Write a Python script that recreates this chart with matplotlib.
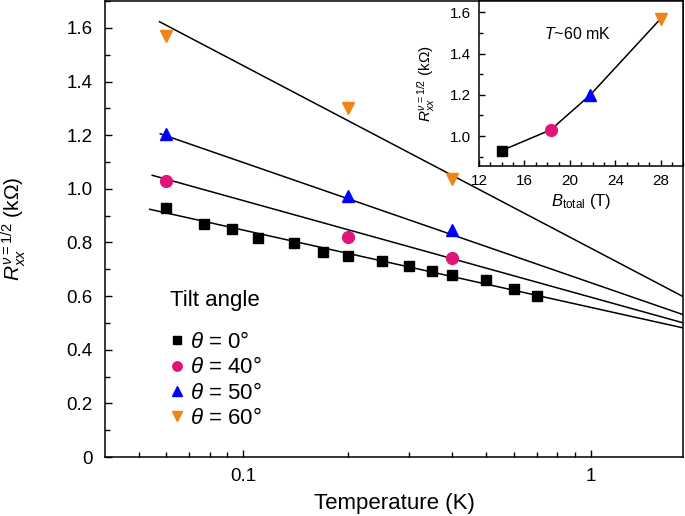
import matplotlib
matplotlib.use("Agg")
import matplotlib.pyplot as plt
import numpy as np
from matplotlib.ticker import FixedLocator, FuncFormatter, MultipleLocator, NullFormatter

plt.rcParams["font.family"] = ["Liberation Sans", "DejaVu Sans"]
plt.rcParams["mathtext.fontset"] = "custom"
plt.rcParams["mathtext.rm"] = "Liberation Sans"
plt.rcParams["mathtext.it"] = "Liberation Sans:italic"
plt.rcParams["mathtext.bf"] = "Liberation Sans:bold"

# theta = 0 deg, full temperature sweep
temp_0 = [0.060, 0.077, 0.093, 0.110, 0.140, 0.170, 0.200, 0.250, 0.300, 0.350, 0.400, 0.500, 0.600, 0.700]
r_0 = [0.929, 0.869, 0.851, 0.817, 0.798, 0.765, 0.750, 0.731, 0.713, 0.694, 0.679, 0.660, 0.627, 0.601]

# tilted samples
temp_tilt = [0.06, 0.2, 0.4]
r_40 = [1.030, 0.821, 0.743]
r_50 = [1.205, 0.972, 0.845]
r_60 = [1.571, 1.302, 1.037]

# log-linear fits: R = r1 + slope * log10(T)
fit_r1 = [0.558, 0.596, 0.650, 0.779]
fit_slope = [-0.288, -0.360, -0.448, -0.680]
fit_tmin = [0.0538, 0.0547, 0.0577, 0.0574]

# inset: R at T~60 mK vs total field
b_total = [14.0, 18.3, 21.8, 28.0]
r_inset = [0.93, 1.03, 1.20, 1.57]

labels = [r"$\theta$ = 0°", r"$\theta$ = 40°", r"$\theta$ = 50°", r"$\theta$ = 60°"]
colors = ["black", "#e0157a", "#0000ff", "#f08418"]
markers = ["s", "o", "^", "v"]
msizes = [7, 8.5, 9, 9]

fig = plt.figure(figsize=(6.85, 5.16), dpi=100)
ax = fig.add_axes([0.1533, 0.1143, 0.8445, 0.8837])

t_end = 2.5
for r1, slope, tmin in zip(fit_r1, fit_slope, fit_tmin):
    t = np.array([tmin, t_end])
    ax.plot(t, r1 + slope * np.log10(t), color="black", lw=1.1, zorder=2)

series = [(temp_0, r_0), (temp_tilt, r_40), (temp_tilt, r_50), (temp_tilt, r_60)]
handles = []
for (tx, ry), lab, c, m, ms in zip(series, labels, colors, markers, msizes):
    ax.plot(tx, ry, ls="none", marker=m, ms=ms, color=c, mec=c, zorder=3)
    handles.append(plt.Line2D([], [], ls="none", marker=m, ms=ms * 0.8, color=c, mec=c, label=lab))

ax.set_xscale("log")
ax.set_xlim(0.04, 1.85)
ax.set_ylim(0, 1.7)
ax.xaxis.set_major_locator(FixedLocator([0.1, 1]))
ax.xaxis.set_major_formatter(FuncFormatter(lambda v, p: "0.1" if v < 0.5 else "1"))
ax.xaxis.set_minor_locator(FixedLocator([0.05, 0.06, 0.07, 0.08, 0.09,
                                         0.2, 0.3, 0.4, 0.5, 0.6, 0.7, 0.8, 0.9]))
ax.xaxis.set_minor_formatter(NullFormatter())
ax.yaxis.set_major_locator(MultipleLocator(0.2))
ax.yaxis.set_minor_locator(MultipleLocator(0.1))
ax.yaxis.set_major_formatter(FuncFormatter(lambda v, p: "0" if abs(v) < 1e-9 else f"{v:.1f}"))
ax.tick_params(which="both", direction="in", top=False, right=False, labelsize=13.5, width=1)
ax.tick_params(which="major", length=5)
ax.tick_params(which="minor", length=3.5)
ax.tick_params(axis="y", pad=9)
ax.tick_params(axis="x", pad=8)
for s in ax.spines.values():
    s.set_linewidth(1.1)
ax.set_xlabel("Temperature (K)", fontsize=16, labelpad=6)
ax.set_ylabel(r"$R_{xx}^{\nu=1/2}$ (k$\Omega$)", fontsize=15)
ax.yaxis.set_label_coords(-0.133, 0.5)

ax.text(0.113, 0.344, "Tilt angle", transform=ax.transAxes, fontsize=16, va="center", ha="left")
ax.legend(handles=handles, loc="upper left", bbox_to_anchor=(0.1085, 0.274), frameon=False,
          fontsize=16, handlelength=0.8, handletextpad=0.2, labelspacing=0.19,
          borderpad=0, borderaxespad=0)

# inset
axi = fig.add_axes([0.6993, 0.6783, 0.2985, 0.3197])
axi.plot(b_total, r_inset, color="black", lw=1.1, zorder=2)
for b, r, c, m, ms in zip(b_total, r_inset, colors, markers, msizes):
    axi.plot([b], [r], ls="none", marker=m, ms=ms, color=c, mec=c, zorder=3)
axi.set_xlim(12, 30)
axi.set_ylim(0.855, 1.655)
axi.xaxis.set_major_locator(MultipleLocator(4))
axi.xaxis.set_minor_locator(MultipleLocator(1))
axi.yaxis.set_major_locator(MultipleLocator(0.2))
axi.yaxis.set_minor_locator(MultipleLocator(0.1))
axi.yaxis.set_major_formatter(FuncFormatter(lambda v, p: f"{v:.1f}"))
axi.tick_params(which="both", direction="in", top=False, right=False, labelsize=11, width=1)
axi.tick_params(which="major", length=4.5)
axi.tick_params(which="minor", length=3)
axi.tick_params(axis="both", pad=6)
for s in axi.spines.values():
    s.set_linewidth(1.1)
axi.set_xlabel(r"$B_{\mathrm{total}}$ (T)", fontsize=12, labelpad=3)
axi.set_ylabel(r"$R_{xx}^{\nu=1/2}$ (k$\Omega$)", fontsize=11, labelpad=9)
axi.text(0.32, 0.80, r"$T$~60 mK", transform=axi.transAxes, fontsize=11.5, va="center", ha="left")

fig.savefig("out.png", dpi=100)
